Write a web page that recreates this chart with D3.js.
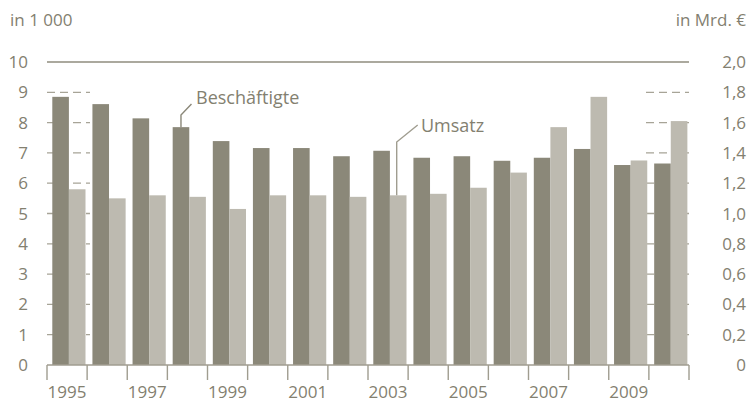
<!DOCTYPE html>
<html><head><meta charset="utf-8">
<script src="https://cdn.jsdelivr.net/npm/d3@7"></script>
<style>body{margin:0;background:#fff}svg text{font-family:"Open Sans",sans-serif;fill:#838070}</style>
</head><body><svg id="c" width="751" height="403"></svg>
<script>
const years = [1995,1996,1997,1998,1999,2000,2001,2002,2003,2004,2005,2006,2007,2008,2009,2010];
const beschaeftigte = [8.85,8.61,8.14,7.85,7.39,7.16,7.16,6.89,7.07,6.84,6.89,6.74,6.84,7.13,6.60,6.65];
const umsatz = [1.16,1.10,1.12,1.11,1.03,1.12,1.12,1.11,1.12,1.13,1.17,1.27,1.57,1.77,1.35,1.61];
const leftTicks = [0,1,2,3,4,5,6,7,8,9,10];
const rightTicks = [0,0.2,0.4,0.6,0.8,1.0,1.2,1.4,1.6,1.8,2.0];
const yearLabels = [1995,1997,1999,2001,2003,2005,2007,2009];

const svg = d3.select("#c");
const x = d3.scaleBand().domain(years).range([47,689]);
const sub = d3.scaleBand().domain(["B","U"]).range([5.3,38.5]);
const yL = d3.scaleLinear().domain([0,10]).range([365,62]);
const yR = d3.scaleLinear().domain([0,2]).range([365,62]);
const x0 = 47, x1 = 689;
const bw = x.bandwidth();

// dashed grid segments at edges
const g = svg.append("g");
leftTicks.filter(t=>t>0&&t<10).forEach(t=>{
  [[x0, x0+43],[x1-43, x1]].forEach(([a,b])=>{
    g.append("line").attr("x1",a).attr("x2",b).attr("y1",yL(t)).attr("y2",yL(t))
     .attr("stroke","#a7a497").attr("stroke-width",1.3).attr("stroke-dasharray","8,5");
  });
});
// top line
svg.append("line").attr("x1",x0).attr("x2",x1).attr("y1",yL(10)).attr("y2",yL(10))
  .attr("stroke","#8f8c7e").attr("stroke-width",1.6);

// bars
const bars = svg.append("g");
years.forEach((yr,i)=>{
  bars.append("rect").attr("x",x(yr)+sub("B")).attr("width",sub.bandwidth())
    .attr("y",yL(beschaeftigte[i])).attr("height",yL(0)-yL(beschaeftigte[i])).attr("fill","#8b8879");
  bars.append("rect").attr("x",x(yr)+sub("U")).attr("width",sub.bandwidth())
    .attr("y",yR(umsatz[i])).attr("height",yR(0)-yR(umsatz[i])).attr("fill","#bdbab0");
});

// x axis
svg.append("line").attr("x1",x0).attr("x2",x1).attr("y1",365).attr("y2",365)
  .attr("stroke","#a09d90").attr("stroke-width",1.4);
const bounds = years.map(y=>x(y)).concat([x1]);
bounds.forEach(b=>{
  svg.append("line").attr("x1",b).attr("x2",b).attr("y1",365).attr("y2",380)
    .attr("stroke","#a09d90").attr("stroke-width",1.4);
});
yearLabels.forEach(yr=>{
  svg.append("text").attr("x",x(yr)+bw/2).attr("y",398).attr("text-anchor","middle")
    .attr("font-size",17).text(yr);
});

// left axis labels
leftTicks.forEach(t=>{
  svg.append("text").attr("x",28).attr("y",yL(t)+6).attr("text-anchor","end")
    .attr("font-size",17).text(t);
});
// right axis labels
rightTicks.forEach(t=>{
  svg.append("text").attr("x",746).attr("y",yR(t)+6).attr("text-anchor","end")
    .attr("font-size",17).text(t===0?"0":d3.format(".1f")(t).replace(".",","));
});
svg.append("text").attr("x",10).attr("y",26).attr("font-size",17).text("in 1 000");
svg.append("text").attr("x",746).attr("y",26).attr("text-anchor","end").attr("font-size",17).text("in Mrd. €");

// annotations
const bi = years.indexOf(1998);
const bx = x(1998)+sub("B")+sub.bandwidth()/2;
svg.append("path").attr("d",`M${bx},${yL(beschaeftigte[bi])}V115L${bx+10.5},104`)
  .attr("fill","none").attr("stroke","#8b8879").attr("stroke-width",1.4);
svg.append("text").attr("x",196).attr("y",104).attr("font-size",18).text("Beschäftigte");

const ui = years.indexOf(2003);
const ux = x(2003)+sub("U")+sub.bandwidth()/2 - 1.5;
svg.append("path").attr("d",`M${ux},${yR(umsatz[ui])}V142L${ux+21},125`)
  .attr("fill","none").attr("stroke","#a09d90").attr("stroke-width",1.4);
svg.append("text").attr("x",421).attr("y",132).attr("font-size",18).text("Umsatz");
</script></body></html>
